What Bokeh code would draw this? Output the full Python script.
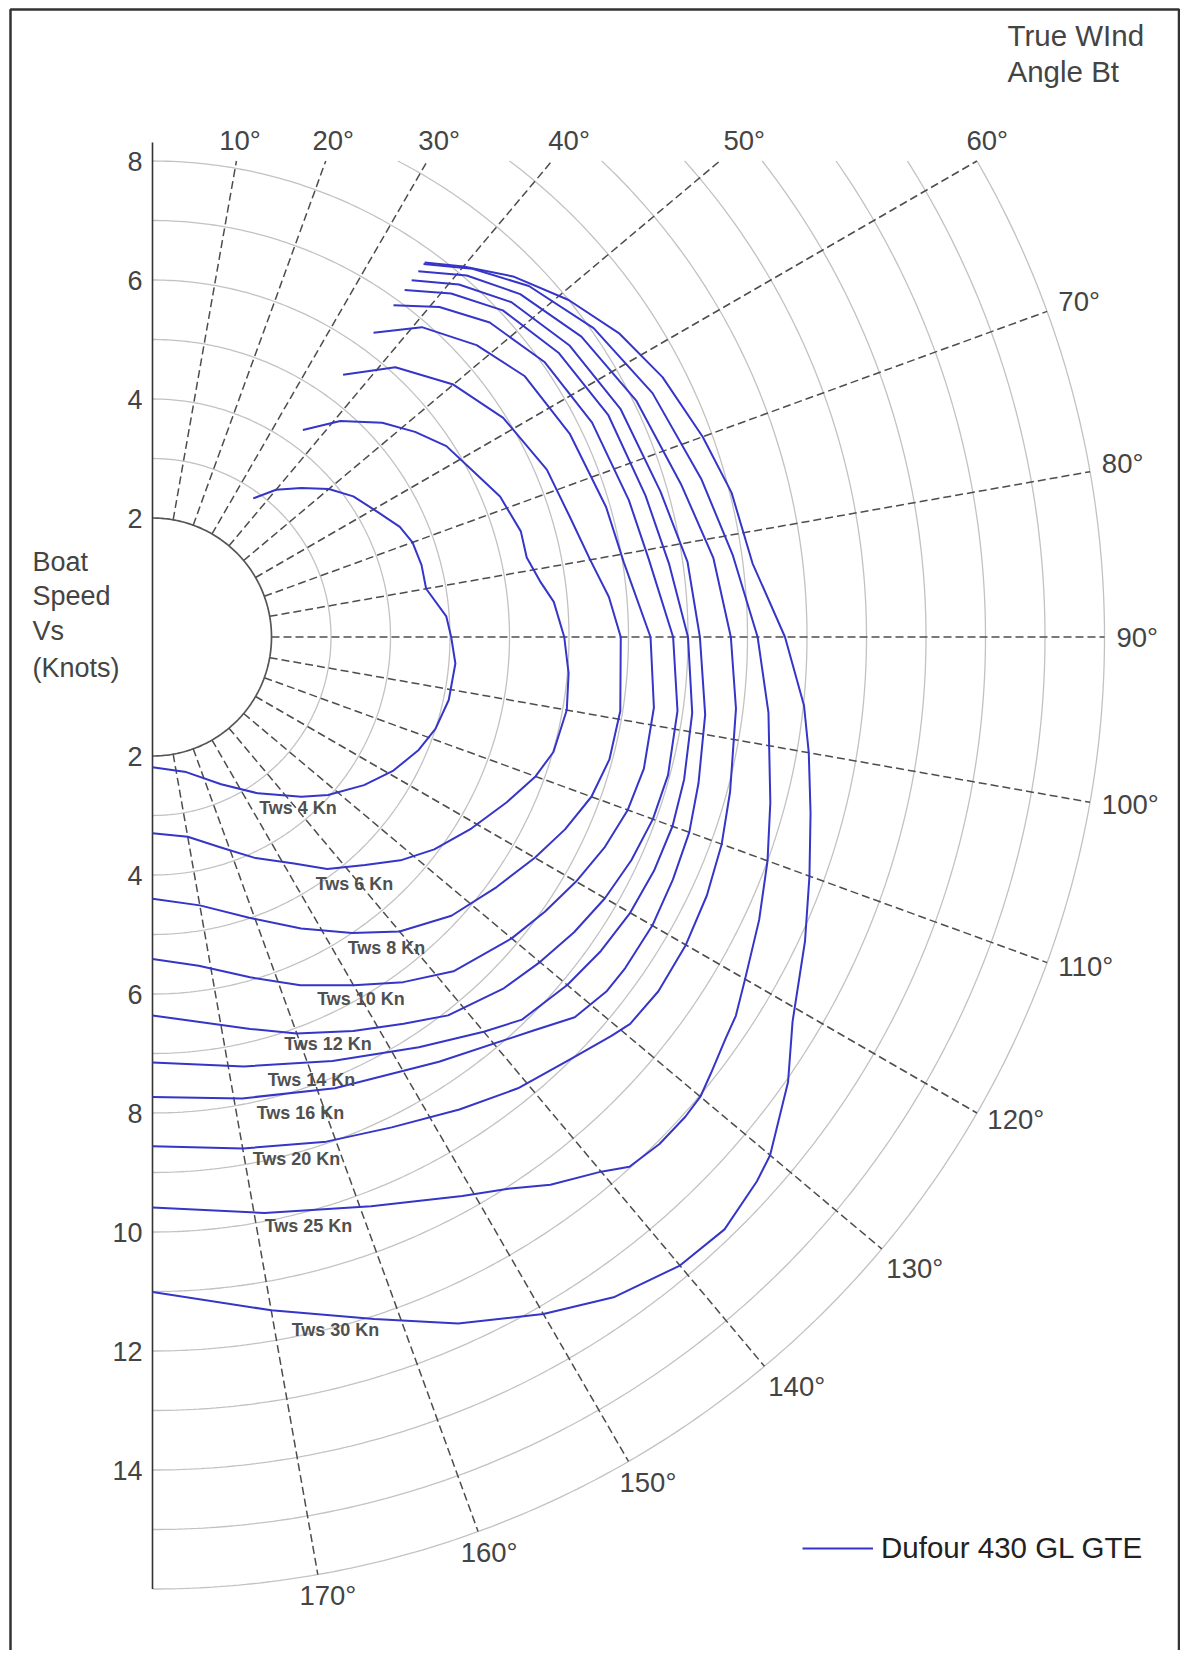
import numpy as np
from bokeh.plotting import figure
from bokeh.models import Range1d, Legend, LegendItem
from bokeh.core.properties import value
from bokeh.embed import file_html
from bokeh.resources import INLINE

# ---------------- data (true wind angle in degrees, boat speed in knots) ----------------
tws_knots = [4, 6, 8, 10, 12, 14, 16, 20, 25, 30]

twa_04 = [36, 40, 45, 50, 55, 61, 66, 70, 75, 80, 86, 90, 95, 102, 108, 113, 119, 125, 132, 137, 146, 155, 166, 180]
vs_04 = [2.88, 3.23, 3.54, 3.87, 4.12, 4.33, 4.55, 4.65, 4.68, 4.67, 4.95, 5.02, 5.11, 5.09, 5.00, 4.86, 4.63, 4.34, 3.97, 3.67, 3.17, 2.73, 2.34, 2.19]

twa_06 = [36, 41, 47, 52, 57, 63, 68, 74, 78, 82, 85, 90, 95, 100, 106, 110, 115, 121, 127, 132, 137, 143, 148, 155, 162, 170, 180]
vs_06 = [4.30, 4.81, 5.28, 5.60, 5.89, 6.08, 6.30, 6.44, 6.43, 6.59, 6.77, 6.92, 7.02, 7.07, 7.01, 6.85, 6.57, 6.25, 5.93, 5.61, 5.24, 4.88, 4.49, 4.10, 3.72, 3.41, 3.30]

twa_08 = [36, 42, 50, 58, 67, 74, 80, 85, 90, 99, 105, 110, 115, 120, 126, 133, 140, 146, 153, 161, 170, 180]
vs_08 = [5.45, 6.10, 6.60, 6.95, 7.20, 7.30, 7.47, 7.70, 7.87, 7.96, 7.95, 7.85, 7.65, 7.42, 7.15, 6.87, 6.46, 6.00, 5.50, 4.99, 4.58, 4.40]

twa_10 = [36, 41, 48, 55, 64, 74, 81, 90, 98, 105, 110, 115, 120, 125, 130, 138, 144, 150, 157, 164, 172, 180]
vs_10 = [6.32, 6.90, 7.33, 7.64, 7.80, 7.93, 8.02, 8.37, 8.51, 8.55, 8.50, 8.38, 8.22, 8.05, 7.88, 7.56, 7.17, 6.76, 6.36, 5.95, 5.58, 5.41]

twa_12 = [36, 41, 47, 55, 64, 74, 81, 90, 98, 105, 110, 115, 120, 125, 130, 135, 142, 147, 153, 160, 166, 173, 180]
vs_12 = [6.89, 7.35, 7.75, 8.05, 8.22, 8.33, 8.44, 8.75, 8.91, 8.97, 8.95, 8.88, 8.78, 8.65, 8.50, 8.35, 8.07, 7.75, 7.43, 7.09, 6.79, 6.52, 6.36]

twa_14 = [36, 41, 47, 55, 64, 74, 82, 90, 98, 105, 110, 115, 120, 125, 130, 136, 140, 147, 157, 168, 180]
vs_14 = [7.21, 7.65, 8.05, 8.33, 8.52, 8.62, 8.77, 9.00, 9.16, 9.25, 9.30, 9.30, 9.27, 9.20, 9.10, 8.94, 8.66, 8.22, 7.74, 7.38, 7.15]

twa_16 = [36, 41, 47, 55, 64, 74, 82, 90, 98, 105, 110, 115, 120, 125, 128, 132, 136, 146, 158, 169, 180]
vs_16 = [7.41, 7.85, 8.25, 8.55, 8.75, 8.88, 9.08, 9.20, 9.38, 9.50, 9.60, 9.65, 9.70, 9.70, 9.68, 9.55, 9.20, 8.61, 8.18, 7.90, 7.73]

twa_20 = [36, 41, 47, 55, 64, 74, 82, 90, 97, 105, 110, 115, 120, 125, 129, 131, 135, 141, 147, 154, 161, 170, 180]
vs_20 = [7.60, 8.05, 8.45, 8.80, 9.05, 9.25, 9.52, 9.72, 9.88, 10.05, 10.18, 10.28, 10.35, 10.38, 10.33, 10.22, 10.00, 9.76, 9.47, 9.17, 8.97, 8.73, 8.56]

twa_25 = [36, 41, 47, 55, 64, 74, 82, 90, 97, 105, 110, 115, 120, 123, 125, 128, 130, 132, 135, 138, 140, 144, 147, 151, 159, 169, 180]
vs_25 = [7.75, 8.20, 8.65, 9.05, 9.35, 9.60, 9.85, 10.17, 10.43, 10.75, 11.00, 11.25, 11.50, 11.69, 11.76, 11.91, 12.02, 12.05, 12.05, 11.98, 11.73, 11.38, 11.05, 10.74, 10.25, 9.86, 9.59]

twa_30 = [36, 40, 45, 51, 57, 63, 70, 76, 83, 90, 96, 100, 105, 110, 115, 121, 125, 130, 132, 136, 140, 145, 150, 156, 162, 170, 180]
vs_30 = [7.78, 8.13, 8.57, 9.00, 9.36, 9.62, 9.84, 10.03, 10.16, 10.63, 11.01, 11.20, 11.45, 11.75, 12.10, 12.55, 13.04, 13.55, 13.67, 13.84, 13.79, 13.54, 13.14, 12.63, 12.05, 11.49, 11.01]

speed_ticks_up = [2, 4, 6, 8]
speed_ticks_down = [2, 4, 6, 8, 10, 12, 14]
angle_ticks = [10, 20, 30, 40, 50, 60, 70, 80, 90, 100, 110, 120, 130, 140, 150, 160, 170]
boat_name = "Dufour 430 GL GTE"

curves = [(twa_04, vs_04), (twa_06, vs_06), (twa_08, vs_08), (twa_10, vs_10), (twa_12, vs_12),
          (twa_14, vs_14), (twa_16, vs_16), (twa_20, vs_20), (twa_25, vs_25), (twa_30, vs_30)]

# ---------------- layout ----------------
W, H = 1180, 1650
PX = 59.5                 # pixels per knot
CXP, CYP = 152.0, 636.5   # centre of polar in canvas pixels
R_IN, R_OUT, Y_TOP = 2.0, 16.0, 8.0
FONT = "Liberation Sans"

def dx(px):  # canvas pixel -> data x
    return (px - CXP) / PX

def dy(py):  # canvas pixel -> data y
    return (CYP - py) / PX

p = figure(width=W, height=H, output_backend="svg", toolbar_location=None,
           x_range=Range1d(dx(0), dx(W)), y_range=Range1d(dy(H), dy(0)),
           min_border=0, x_axis_location=None, y_axis_location=None)
p.grid.visible = False
p.outline_line_color = None
p.background_fill_color = "white"
p.border_fill_color = "white"

def polar(theta_deg, r):
    t = np.radians(np.asarray(theta_deg, dtype=float))
    r = np.asarray(r, dtype=float)
    return r * np.sin(t), r * np.cos(t)

# outer frame (left, top, right)
p.line([dx(10), dx(10), dx(1178.5), dx(1178.5)], [dy(1700), dy(9), dy(9), dy(1700)],
       line_color="#333333", line_width=2.5)

# speed circles (clipped at y = 8 kn)
cx, cy = [], []
for r in range(3, 17):
    t0 = np.degrees(np.arccos(min(1.0, Y_TOP / r)))
    th = np.linspace(t0, 180, 300)
    x, y = polar(th, np.full_like(th, r))
    cx.append(x); cy.append(y)
p.multi_line(cx, cy, line_color="#c2c2c2", line_width=1.3)

# radial dashed lines
rx, ry = [], []
for a in angle_ticks:
    c = np.cos(np.radians(a))
    r_end = min(R_OUT, Y_TOP / c) if c > 0 else R_OUT
    x, y = polar([a, a], [R_IN, r_end])
    rx.append(x); ry.append(y)
p.multi_line(rx, ry, line_color="#4d4d4d", line_width=1.5, line_dash="8 4")

# inner circle and vertical axis
th = np.linspace(0, 180, 200)
x, y = polar(th, np.full_like(th, R_IN))
p.line(x, y, line_color="#555555", line_width=1.7)
p.line([0, 0], [dy(142), -R_OUT], line_color="#333333", line_width=1.6)

# polar curves
renderers = []
for twa, vs in curves:
    x, y = polar(twa, vs)
    renderers.append(p.line(x, y, line_color="#3535c8", line_width=2, line_join="round"))

# speed tick labels
p.text(x=[dx(142)] * len(speed_ticks_up), y=speed_ticks_up, text=[str(v) for v in speed_ticks_up],
       text_font=value(FONT), text_font_size="27px", text_color="#444444",
       text_align="right", text_baseline="middle")
p.text(x=[dx(142)] * len(speed_ticks_down), y=[-v for v in speed_ticks_down],
       text=[str(v) for v in speed_ticks_down],
       text_font=value(FONT), text_font_size="27px", text_color="#444444",
       text_align="right", text_baseline="middle")

# angle labels
LBL_STYLE = dict(text_font=value(FONT), text_font_size="27.5px", text_color="#444444")

# upper labels: on the extension of each ray, at a fixed height above the clip line
top_angles = [a for a in angle_ticks if a <= 60]
y_lab = dy(140)
tx = []
for a in top_angles:
    t = np.radians(a)
    tx.append(min(y_lab * np.tan(t), 16.2 * np.sin(t)))
p.text(x=tx, y=[y_lab] * len(top_angles), text=[f"{a}°" for a in top_angles],
       text_align="center", text_baseline="middle", **LBL_STYLE)

def add_angle_labels(angles, r_off_px, align, baseline, xoff=0, yoff=0):
    x, y = polar(angles, np.full(len(angles), R_OUT + r_off_px / PX))
    p.text(x=list(x), y=list(y), text=[f"{a}°" for a in angles], text_align=align,
           text_baseline=baseline, x_offset=xoff, y_offset=yoff, **LBL_STYLE)

add_angle_labels([a for a in angle_ticks if 70 <= a <= 80], 12, "left", "middle", yoff=-6)
add_angle_labels([a for a in angle_ticks if 90 <= a <= 120], 12, "left", "middle")
add_angle_labels([a for a in angle_ticks if 130 <= a <= 140], 6, "left", "top")
add_angle_labels([a for a in angle_ticks if a == 150], 6, "left", "top", xoff=-12)
add_angle_labels([a for a in angle_ticks if a >= 160], 6, "center", "top", xoff=9)

# Tws labels (canvas-pixel placement next to each curve)
tws_label_px = [(297.5, 807), (354, 883), (386, 947), (360.5, 998), (327.5, 1043),
                (311, 1079), (300, 1112), (296, 1158), (308, 1225), (335, 1329)]
p.text(x=[dx(a) for a, b in tws_label_px], y=[dy(b) for a, b in tws_label_px],
       text=[f"Tws {t} Kn" for t in tws_knots], text_font=value(FONT),
       text_font_size="18px", text_font_style="bold", text_color="#505050",
       text_align="center", text_baseline="middle")

# axis titles
p.text(x=[dx(32)] * 4, y=[dy(561), dy(595), dy(630), dy(667)],
       text=["Boat", "Speed", "Vs", "(Knots)"], text_font=value(FONT),
       text_font_size="27px", text_color="#444444", text_align="left", text_baseline="middle")
p.text(x=[dx(1007)] * 2, y=[dy(35), dy(71)], text=["True WInd", "Angle Bt"],
       text_font=value(FONT), text_font_size="29.5px", text_color="#444444",
       text_align="left", text_baseline="middle")

# legend
legend = Legend(items=[LegendItem(label=boat_name, renderers=[renderers[-1]])],
                location=(802, H - 1548 - 17), orientation="vertical")
legend.label_text_font = FONT
legend.label_text_font_size = "29.5px"
legend.label_text_color = "#222222"
legend.glyph_width = 71
legend.glyph_height = 34
legend.label_standoff = 8
legend.label_height = 34
legend.padding = 0
legend.margin = 0
legend.spacing = 0
legend.border_line_alpha = 0
legend.background_fill_alpha = 0
p.add_layout(legend)

open("out.html", "w").write(file_html(p, INLINE))
